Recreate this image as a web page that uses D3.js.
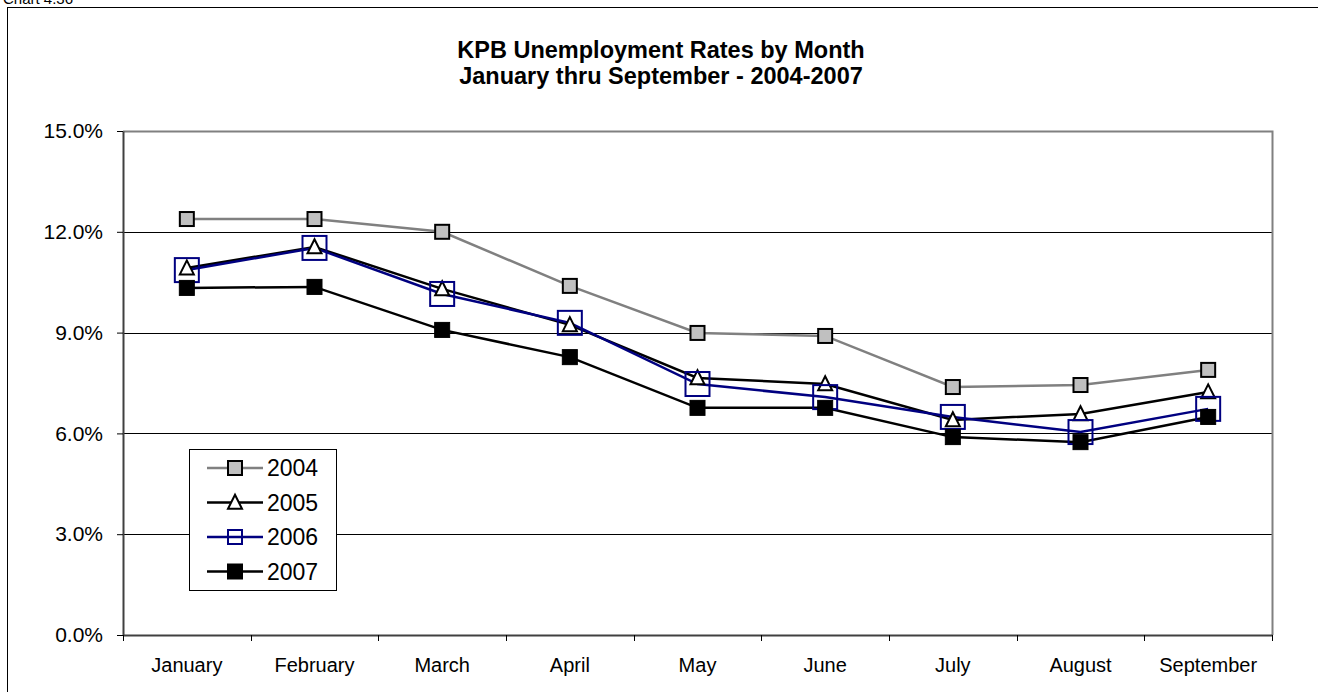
<!DOCTYPE html>
<html><head><meta charset="utf-8">
<script src="https://cdn.jsdelivr.net/npm/d3@7"></script>
<style>body{margin:0;background:#fff}svg{display:block;font-family:Arial,"Liberation Sans",sans-serif}</style>
</head><body>
<svg id="c" width="1318" height="692"></svg>
<script>
const months = ["January","February","March","April","May","June","July","August","September"];
const years = ["2004","2005","2006","2007"];
const v2004 = [12.38,12.38,12.0,10.39,8.99,8.9,7.38,7.44,7.89];
const v2005 = [10.92,11.55,10.3,9.23,7.65,7.47,6.4,6.58,7.23];
const v2006 = [10.86,11.52,10.15,9.29,7.47,7.08,6.49,6.04,6.73];
const v2007 = [10.33,10.36,9.08,8.27,6.76,6.76,5.89,5.74,6.49];
const yTicks = [0,3,6,9,12,15];
const titleLines = ["KPB Unemployment Rates by Month","January thru September - 2004-2007"];

const FONT = "Arial,'Liberation Sans',sans-serif";
const series = [
  {name:years[0], values:v2004, line:"#808080", lw:2.5, marker:"square", fill:"#c0c0c0", stroke:"#000", size:14, lsize:14, msw:2},
  {name:years[1], values:v2005, line:"#000", lw:2.5, marker:"triangle", fill:"#fff", stroke:"#000", size:14, lsize:14, msw:2},
  {name:years[2], values:v2006, line:"#000080", lw:2.5, marker:"square", fill:"none", stroke:"#000080", size:24, lsize:14, msw:2},
  {name:years[3], values:v2007, line:"#000", lw:2.5, marker:"square", fill:"#000", stroke:"#000", size:15, lsize:15, msw:1}
];

const svg = d3.select("#c");
svg.append("rect").attr("x",7.5).attr("y",7.5).attr("width",1320).attr("height",700)
  .attr("fill","none").attr("stroke","#000").attr("stroke-width",1);
svg.append("text").attr("x",3).attr("y",4).attr("font-size",15).attr("fill","#000").text("Chart 4.36");

titleLines.forEach((t,i)=>svg.append("text").attr("x",661).attr("y",58+i*26)
  .attr("text-anchor","middle").attr("font-size",23.5).attr("font-weight","bold").text(t));

const L=123, R=1272, T=131, B=635;
const x = d3.scaleBand().domain(months).range([L,R]);
const y = d3.scaleLinear().domain([0,15]).range([B,T]);

svg.append("g").selectAll("line").data(yTicks.filter(d=>d>0&&d<15)).join("line")
  .attr("x1",L).attr("x2",R).attr("y1",d=>Math.round(y(d))+0.5).attr("y2",d=>Math.round(y(d))+0.5)
  .attr("stroke","#000").attr("stroke-width",1);
svg.append("path").attr("d",`M${L},${T+0.5}H${R+0.5}V${B}`).attr("fill","none").attr("stroke","#808080").attr("stroke-width",2);

const ya = svg.append("g").attr("transform",`translate(${L},0)`)
  .call(d3.axisLeft(y).tickValues(yTicks).tickFormat(d=>d.toFixed(1)+"%").tickSize(6).tickSizeOuter(0));
ya.select(".domain").attr("stroke","#404040").attr("stroke-width",2);
ya.selectAll(".tick line").attr("stroke","#000");
ya.selectAll(".tick text").attr("font-size",21).attr("font-family",FONT).attr("fill","#000").attr("x",-20);

const xa = svg.append("g").attr("transform",`translate(0,${B})`)
  .call(d3.axisBottom(x).tickSize(0).tickSizeOuter(0));
xa.select(".domain").attr("stroke","#404040").attr("stroke-width",2);
xa.selectAll(".tick text").attr("font-size",20).attr("font-family",FONT).attr("fill","#000").attr("dy","0").attr("y",37);
const bounds = months.map(m=>x(m)).concat([R]);
svg.append("g").selectAll("line").data(bounds).join("line")
  .attr("x1",d=>Math.round(d)+0.5).attr("x2",d=>Math.round(d)+0.5).attr("y1",B).attr("y2",B+6)
  .attr("stroke","#000");

const cx = m => x(m)+x.bandwidth()/2;

function drawMarker(g, s, px, py, size){
  if(s.marker==="square"){
    g.append("rect").attr("x",px-size/2).attr("y",py-size/2).attr("width",size).attr("height",size)
      .attr("fill",s.fill).attr("stroke",s.stroke).attr("stroke-width",s.msw);
  } else {
    const h=size;
    g.append("path").attr("d",`M${px},${py-h*0.55}L${px+h*0.5},${py+h*0.45}L${px-h*0.5},${py+h*0.45}Z`)
      .attr("fill",s.fill).attr("stroke",s.stroke).attr("stroke-width",s.msw).attr("stroke-linejoin","miter");
  }
}

const line = d3.line().x((d,i)=>cx(months[i])).y(d=>y(d));
series.forEach(s=>{
  svg.append("path").datum(s.values).attr("d",line).attr("fill","none").attr("stroke",s.line).attr("stroke-width",s.lw);
});
series.forEach(s=>{
  const g=svg.append("g");
  s.values.forEach((v,i)=>drawMarker(g,s,cx(months[i]),y(v),s.size));
});

const lg = svg.append("g");
lg.append("rect").attr("x",189.5).attr("y",449.5).attr("width",147).attr("height",141).attr("fill","#fff").attr("stroke","#000");
series.forEach((s,i)=>{
  const ly = 468 + i*34.5;
  lg.append("line").attr("x1",207).attr("x2",263).attr("y1",ly).attr("y2",ly).attr("stroke",s.line).attr("stroke-width",s.lw);
  drawMarker(lg,s,235,ly,s.lsize);
  lg.append("text").attr("x",267).attr("y",ly+8).attr("font-size",23).attr("font-family",FONT).text(s.name);
});
</script>
</body></html>
